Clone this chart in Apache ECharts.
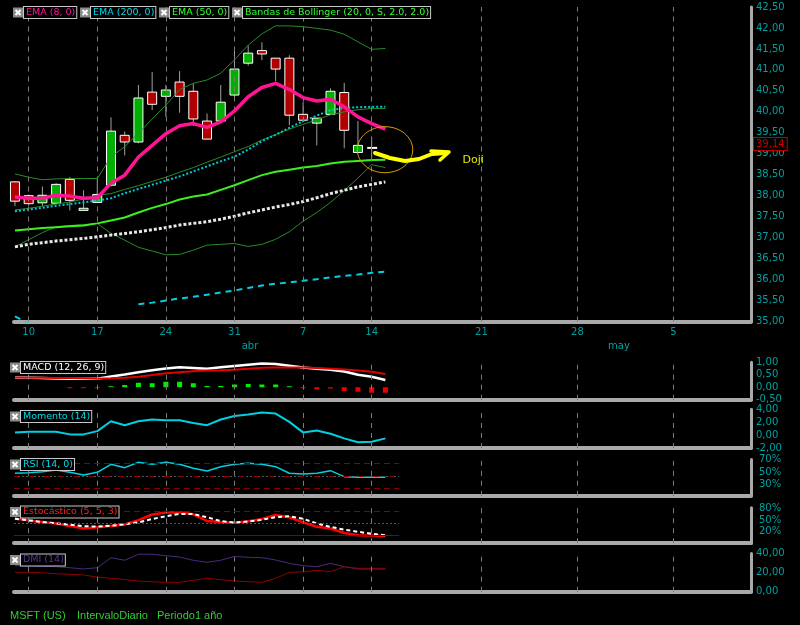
<!DOCTYPE html>
<html><head><meta charset="utf-8">
<script src="https://cdn.jsdelivr.net/npm/echarts@6/dist/echarts.min.js"></script>
<style>html,body{margin:0;padding:0;background:#000}#c{width:800px;height:625px}</style>
</head><body><div id="c"></div>
<script>
// ---- data ----
const dates = ['07/03','10/03','11/03','12/03','13/03','14/03','17/03','18/03','19/03','20/03','21/03','24/03','25/03','26/03','27/03','28/03','31/03','01/04','02/04','03/04','04/04','07/04','08/04','09/04','10/04','11/04','14/04'];
const open  = [38.33,38.00,37.83,37.82,38.39,37.65,37.84,38.25,39.44,39.28,40.47,40.37,40.71,40.49,39.78,39.78,40.40,41.16,41.46,41.28,41.28,39.94,39.73,39.94,40.46,39.03,39.14];
const close = [37.87,37.81,38.01,38.27,37.89,37.70,38.03,39.54,39.28,40.33,40.18,40.52,40.37,39.83,39.35,40.23,41.02,41.40,41.38,41.02,39.92,39.80,39.85,40.49,39.56,39.20,39.14];
const low   = [37.75,37.76,37.75,37.80,37.65,37.65,37.84,38.22,38.96,39.25,40.04,39.88,39.98,39.66,39.35,39.75,40.28,41.10,41.23,40.73,39.68,39.75,39.20,39.94,39.13,39.03,38.89];
const high  = [38.35,38.03,38.22,38.30,38.45,38.13,38.41,39.87,39.53,40.64,40.95,40.64,40.97,40.68,39.96,40.64,41.49,41.58,41.66,41.28,41.35,40.24,39.85,40.56,40.69,39.78,39.40];

const ema8     = [37.97,37.94,37.94,38.01,37.99,37.94,37.95,38.30,38.49,38.92,39.20,39.48,39.67,39.72,39.63,39.76,40.02,40.36,40.58,40.68,40.53,40.34,40.26,40.30,40.12,39.88,39.72,39.59];
const ema200   = [35.12,34.96,null,null,null,null,null,null,null,35.41,35.45,35.50,35.55,35.59,35.64,35.69,35.74,35.80,35.86,35.90,35.93,35.97,36.01,36.05,36.09,36.12,36.16,36.19];
const ema50    = [37.17,37.20,37.23,37.25,37.27,37.29,37.34,37.41,37.48,37.60,37.71,37.80,37.91,37.98,38.03,38.14,38.25,38.37,38.49,38.57,38.62,38.67,38.71,38.77,38.81,38.83,38.85,38.86];
const whiteDot = [36.78,36.84,36.88,36.92,36.95,36.98,37.02,37.06,37.10,37.14,37.19,37.24,37.30,37.34,37.38,37.44,37.51,37.59,37.66,37.73,37.79,37.86,37.95,38.05,38.13,38.21,38.27,38.33];
const bbMid    = [37.63,37.67,37.71,37.76,37.80,37.84,37.88,37.94,38.06,38.16,38.26,38.36,38.46,38.58,38.70,38.82,38.93,39.10,39.30,39.45,39.62,39.78,39.91,40.04,40.09,40.11,40.12,40.12];
const greenMid = [37.66,37.70,37.75,37.80,37.85,37.92,38.01,38.05,38.15,38.24,38.34,38.44,38.56,38.67,38.80,38.92,39.05,39.17,39.33,39.46,39.59,39.70,39.81,39.93,40.00,40.05,40.08,40.08];
const bbUpper  = [38.52,38.44,38.38,38.40,38.41,38.41,38.41,38.92,39.17,39.49,39.83,40.16,40.53,40.68,40.76,40.92,41.24,41.59,41.86,42.05,42.05,42.03,41.99,41.95,41.85,41.67,41.49,41.51];
const bbLower  = [36.78,36.95,37.12,37.26,37.29,37.31,37.34,37.10,36.94,36.77,36.68,36.59,36.60,36.70,36.82,36.84,36.86,36.79,36.84,36.96,37.14,37.39,37.60,37.84,38.12,38.42,38.74,38.67];

const macd   = [0.39,0.38,0.37,0.35,0.34,0.34,0.34,0.43,0.51,0.60,0.68,0.75,0.80,0.77,0.74,0.80,0.85,0.90,0.95,0.93,0.86,0.79,0.74,0.70,0.63,0.50,0.42,0.29];
const signal = [0.39,0.385,0.38,0.375,0.37,0.36,0.345,0.36,0.38,0.42,0.49,0.56,0.60,0.64,0.67,0.68,0.70,0.74,0.78,0.79,0.79,0.79,0.77,0.74,0.71,0.67,0.62,0.53];
const hist   = [null,null,null,null,-0.02,-0.02,-0.02,0.03,0.09,0.18,0.16,0.22,0.22,0.16,0.05,0.05,0.11,0.13,0.11,0.11,0.03,-0.03,-0.09,-0.05,-0.15,-0.18,-0.22,-0.22];
const momentum = [0.42,0.51,0.51,0.51,0.11,0.11,0.62,2.15,1.54,2.15,2.42,2.31,2.31,1.89,1.54,2.42,2.97,3.18,3.49,3.34,2.05,0.42,0.72,0.20,-0.51,-1.12,-1.03,-0.51];
const rsi    = [54.0,55.0,56.5,59.3,55.6,51.3,55.6,68.4,63.0,71.6,68.4,71.6,68.4,62.0,57.7,64.6,68.4,70.0,68.4,64.6,54.0,52.9,54.0,58.2,48.6,47.6,47.6,47.6];
const stochK = [63.0,58.0,54.0,50.0,44.0,37.3,40.5,43.5,47.8,58.7,73.0,78.3,78.5,73.5,56.5,54.0,51.7,56.0,61.8,71.5,66.0,53.0,41.8,37.3,26.0,20.0,19.5,18.2];
const stochD = [62.0,58.0,54.0,50.5,47.0,43.5,42.0,44.5,48.0,53.0,61.5,68.5,74.5,74.0,66.0,56.1,52.5,55.0,59.5,66.0,68.5,62.0,50.5,41.4,34.5,29.0,24.0,20.0];
const diPlus  = [27.2,27.0,26.6,26.2,25.1,23.8,25.1,35.6,32.9,39.2,39.2,37.7,36.3,32.9,30.8,32.9,37.0,36.0,35.6,33.2,29.7,27.2,26.2,29.7,26.2,23.8,23.8,23.8];
const diMinus = [20.3,20.3,19.8,18.8,18.2,17.5,15.3,14.0,12.8,11.0,10.4,9.8,9.8,12.0,14.0,12.6,11.2,10.5,9.8,14.0,20.3,20.9,22.4,20.9,26.2,24.5,24.5,24.5];

const tickIdx    = [1,6,11,16,21,26,34,41,48];
const tickLabels = ['10','17','24','31','7','14','21','28','5'];
const monthLabels = ['abr','may'];

// ---- chart ----
const XMIN = -0.07, XMAX = 53.65;
const FONT = 'DejaVu Sans';
const TEAL = '#00a0a0';
const GRAY = '#a9a9a9';
const fmt2 = v => v.toFixed(2).replace('.', ',');
const idx = a => a.map((v, i) => [i, v]);

const gridBoxes = [
  {top: 7, height: 314.5},
  {top: 362.3, height: 37.4},
  {top: 409.3, height: 38.7},
  {top: 459.55, height: 36.25},
  {top: 507.8, height: 35.4},
  {top: 553.5, height: 38.2}
];
const grid = gridBoxes.map(g => ({left: 14, right: 49, top: g.top, height: g.height, outerBoundsMode: 'none', containLabel: false}));

const xAxis = gridBoxes.map((g, k) => ({
  type: 'value', gridIndex: k, min: XMIN, max: XMAX,
  axisLine: {show: true, onZero: false, lineStyle: {color: GRAY, width: 4}},
  axisTick: {show: false}, splitLine: {show: false},
  axisLabel: k === 0 ? {show: true, customValues: tickIdx, color: TEAL, fontFamily: FONT, fontSize: 10, margin: 6,
    formatter: v => { const j = tickIdx.indexOf(Math.round(v)); return j >= 0 ? tickLabels[j] : ''; }} : {show: false}
}));

function yAx(k, min, max, extra, lab) {
  return Object.assign({
    type: 'value', gridIndex: k, position: 'right', min, max,
    axisLine: {show: true, onZero: false, lineStyle: {color: GRAY, width: 3}},
    axisTick: {show: false}, splitLine: {show: false},
    axisLabel: Object.assign({color: TEAL, fontFamily: FONT, fontSize: 10, margin: 5, formatter: fmt2, showMinLabel: true, showMaxLabel: true}, lab || {})
  }, extra || {});
}
const pct = v => v + '%';
const yAxis = [
  yAx(0, 35, 42.5, {interval: 0.5}),
  yAx(1, -0.5, 1, {interval: 0.5}),
  yAx(2, -2, 4, {interval: 2}),
  yAx(3, 18, 76, {}, {customValues: [30, 50, 70], formatter: pct, margin: 8, verticalAlign: 'bottom', lineHeight: 7}),
  yAx(4, 0, 90, {}, {customValues: [20, 50, 80], formatter: pct, margin: 8, verticalAlign: 'bottom', lineHeight: 7}),
  yAx(5, 0, 40, {interval: 20})
];

function line(k, data, color, width, type, z) {
  return {type: 'line', xAxisIndex: k, yAxisIndex: k, data: idx(data), symbol: 'none', showSymbol: false,
    silent: true, connectNulls: false, z: z || 3,
    lineStyle: {color, width, type: type || 'solid', cap: 'butt'}};
}
function gridLines(k, extra) {
  const data = tickIdx.map(v => ({xAxis: v}));
  return {type: 'line', xAxisIndex: k, yAxisIndex: k, data: [], z: 1, silent: true,
    markLine: {symbol: ['none', 'none'], silent: true, animation: false, label: {show: false},
      lineStyle: {color: '#7a7a7a', type: [5, 5], width: 1},
      data: data.concat(extra || [])}};
}
function hline(y, color, type, off) {
  return [{coord: [XMIN, y], lineStyle: {color, type, width: 1, dashOffset: off || 0}}, {coord: [28, y]}];
}

const series = [
  gridLines(0),
  {
    type: 'custom', xAxisIndex: 0, yAxisIndex: 0, z: 2, silent: true,
    data: open.map((o, i) => [i, o, close[i], low[i], high[i]]),
    encode: {x: 0, y: [1, 2, 3, 4]},
    renderItem: (params, api) => {
      const i = api.value(0), o = api.value(1), c = api.value(2), l = api.value(3), h = api.value(4);
      const pO = api.coord([i, o]), pC = api.coord([i, c]), pL = api.coord([i, l]), pH = api.coord([i, h]);
      const x = pO[0], w = 9;
      const top = Math.min(pO[1], pC[1]), bh = Math.abs(pO[1] - pC[1]);
      const doji = bh < 1;
      return {type: 'group', children: [
        {type: 'line', shape: {x1: x, y1: pH[1], x2: x, y2: pL[1]}, style: {stroke: '#a0a0a0', lineWidth: 1}},
        doji
          ? {type: 'rect', shape: {x: x - w / 2, y: top - 1, width: w + 1, height: 2}, style: {fill: '#ffffff'}}
          : {type: 'rect', shape: {x: x - w / 2, y: top, width: w, height: bh}, style: {fill: c > o ? '#00b000' : '#b00000', stroke: '#ffffff', lineWidth: 1}}
      ]};
    }
  },
  line(0, bbUpper, '#2a8a2a', 1),
  line(0, bbLower, '#2a8a2a', 1),
  line(0, greenMid, '#2a8a2a', 1),
  line(0, ema200, '#00d0e0', 2, [6, 5]),
  line(0, whiteDot, '#e8e8e8', 3, [3, 2]),
  line(0, ema50, '#3cf01e', 2),
  line(0, bbMid, '#00c8d8', 2, [2, 2]),
  line(0, ema8, '#ff1493', 3.5, 'solid', 5),

  gridLines(1),
  {type: 'bar', xAxisIndex: 1, yAxisIndex: 1, data: idx(hist), barWidth: 5, barMinHeight: 1, silent: true, z: 2,
    itemStyle: {color: p => (p.value[1] >= 0 ? '#00ee00' : '#ee0000')}},
  line(1, macd, '#ffffff', 2.5),
  line(1, signal, '#e00000', 2, 'solid', 4),

  gridLines(2),
  line(2, momentum, '#00d0e0', 2),

  gridLines(3, [hline(70, '#8a0000', [6, 4]), hline(50, '#555555', [2, 2]), hline(50, '#8a0000', [5, 10], 0), hline(30, '#8a0000', [6, 4])]),
  line(3, rsi, '#00d0e0', 1.5),

  gridLines(4, [hline(80, '#8a0000', [6, 4]), hline(50, '#555555', [2, 2]), hline(20, '#1a1a90', [6, 6], 6), hline(20, '#900000', [6, 6], 0)]),
  line(4, stochK, '#ff0000', 2.5),
  line(4, stochD, '#ffffff', 2, [4, 3], 4),

  gridLines(5),
  line(5, diPlus, '#4a2a80', 1),
  line(5, diMinus, '#900000', 1)
];

const TAGFONT = '9.5px "DejaVu Sans"';
function tag(x, y, label, color) {
  return [
    {type: 'rect', z: 100, shape: {x: x, y: y - 5, width: 10, height: 10}, style: {fill: '#8a8a8a'}},
    {type: 'polyline', z: 101, shape: {points: [[x + 2.5, y - 2.5], [x + 7.5, y + 2.5]]}, style: {stroke: '#ffffff', lineWidth: 2}},
    {type: 'polyline', z: 101, shape: {points: [[x + 7.5, y - 2.5], [x + 2.5, y + 2.5]]}, style: {stroke: '#ffffff', lineWidth: 2}},
    {type: 'text', z: 100, x: x + 11, y: y, style: {text: label, fill: color, font: TAGFONT, verticalAlign: 'middle', align: 'left',
      backgroundColor: '#000', borderColor: '#c8c8c8', borderWidth: 1, padding: [1, 1, 0, 2]}}
  ];
}
const txt = (x, y, t, fill, font, align) => ({type: 'text', z: 100, x, y, style: {text: t, fill, font, align: align || 'left', verticalAlign: 'middle'}});

const graphic = [].concat(
  tag(13, 12.5, 'EMA (8, 0)', '#ff1493'),
  tag(80, 12.5, 'EMA (200, 0)', '#00d8e8'),
  tag(159, 12.5, 'EMA (50, 0)', '#33ff33'),
  tag(232, 12.5, 'Bandas de Bollinger (20, 0, S, 2.0, 2.0)', '#33ff33'),
  tag(10, 367.5, 'MACD (12, 26, 9)', '#ffffff'),
  tag(10, 416.5, 'Momento (14)', '#00d8e8'),
  tag(10, 464.5, 'RSI (14, 0)', '#00d8e8'),
  tag(10, 512, 'Estocástico (5, 5, 3)', '#ff2020'),
  tag(10, 560, 'DMI (14)', '#5a3498'),
  [
    {type: 'text', z: 110, x: 754, y: 144, style: {text: fmt2(close[close.length - 1]), fill: '#c00000', font: '10px "DejaVu Sans"',
      verticalAlign: 'middle', align: 'left', backgroundColor: '#000', borderColor: '#c00000', borderWidth: 1, padding: [1, 2, 1, 2]}},
    {type: 'ellipse', z: 100, shape: {cx: 385, cy: 149.7, rx: 27.7, ry: 23}, style: {fill: 'none', stroke: '#d9a400', lineWidth: 1}},
    {type: 'polyline', z: 100, shape: {points: [[375, 153], [390, 158], [405, 161], [419, 159], [432, 154], [446, 153]]},
      style: {fill: 'none', stroke: '#ffff00', lineWidth: 4, lineCap: 'round', lineJoin: 'round'}},
    {type: 'polyline', z: 100, shape: {points: [[431, 151], [449, 152], [440, 160]]},
      style: {fill: 'none', stroke: '#ffff00', lineWidth: 3.5, lineCap: 'round', lineJoin: 'round'}},
    txt(462.5, 160, 'Doji', '#e6e600', '11px "DejaVu Sans"'),
    txt(250, 346.5, monthLabels[0], TEAL, '10px "DejaVu Sans"', 'center'),
    txt(619, 346.5, monthLabels[1], TEAL, '10px "DejaVu Sans"', 'center'),
    txt(10, 615.5, 'MSFT (US)', '#33cc33', '11px "Liberation Sans"'),
    txt(77, 615.5, 'IntervaloDiario', '#33cc33', '11px "Liberation Sans"'),
    txt(157, 615.5, 'Periodo1 año', '#33cc33', '11px "Liberation Sans"')
  ]
);

const chart = echarts.init(document.getElementById('c'), null, {renderer: 'canvas'});
chart.setOption({
  backgroundColor: '#000000',
  animation: false,
  grid, xAxis, yAxis, series, graphic
});
</script>
</body></html>
